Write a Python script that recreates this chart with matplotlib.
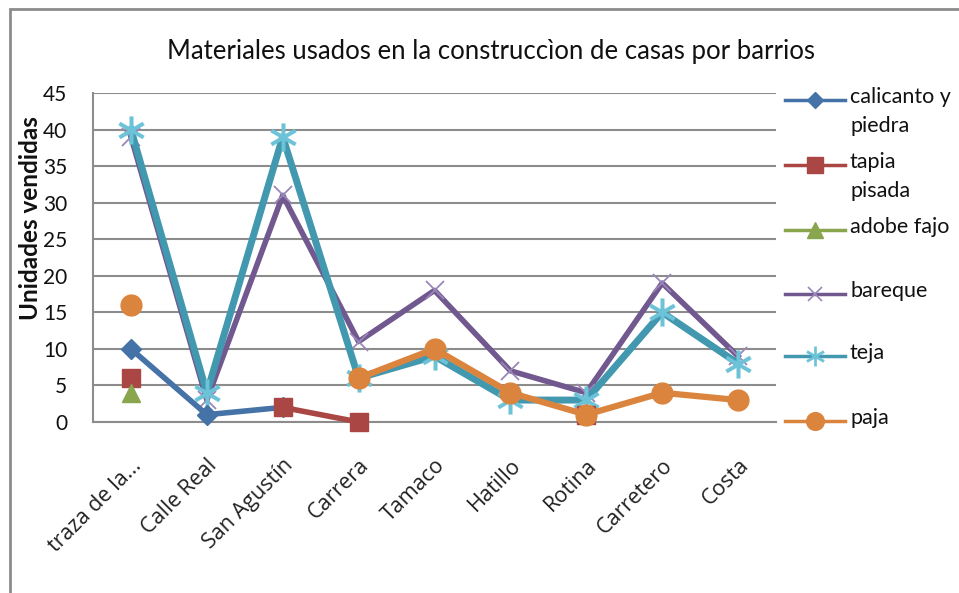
import numpy as np
import matplotlib
matplotlib.use("Agg")
import matplotlib.pyplot as plt
from matplotlib.lines import Line2D
from matplotlib.patches import Rectangle
import matplotlib.transforms as mtrans

nan = np.nan
categories = ["traza de la...", "Calle Real", "San Agustín", "Carrera", "Tamaco",
              "Hatillo", "Rotina", "Carretero", "Costa"]
calicanto = [10, 1, 2, nan, nan, nan, nan, nan, nan]
tapia = [6, nan, 2, 0, nan, nan, 1, nan, nan]
adobe = [4, nan, nan, nan, nan, nan, nan, nan, nan]
bareque = [39, 3, 31, 11, 18, 7, 4, 19, 9]
teja = [40, 4, 39, 6, 9, 3, 3, 15, 8]
paja = [16, nan, nan, 6, 10, 4, 1, 4, 3]

series_names = ["calicanto y\npiedra", "tapia\npisada", "adobe fajo", "bareque", "teja", "paja"]
series_values = [calicanto, tapia, adobe, bareque, teja, paja]
colors = ["#4572A7", "#AA4643", "#89A54E", "#71588F", "#4198AF", "#DB843D"]
markers = ["D", "s", "^", "x", "*", "o"]
msizes = [10, 13, 13, 13, 14, 15]
lwidths = [4, 4, 4, 4, 5, 4.5]

W, H = 959, 593
fig = plt.figure(figsize=(W / 100, H / 100), dpi=100)
ax = fig.add_axes([93 / W, 1 - 422 / H, 683 / W, 329 / H])

x = np.arange(len(categories))
for vals, col, mk, ms, lw in zip(series_values, colors, markers, msizes, lwidths):
    v = np.array(vals, dtype=float)
    if mk == "x":
        ax.plot(x, v, color=col, lw=lw, marker=mk, ms=ms, mew=1.3,
                mec="#9a86b8", zorder=3, clip_on=False)
    elif mk == "*":
        ax.plot(x, v, color=col, lw=lw, marker="$\\ast$", ms=ms + 6, mew=0.2,
                mec="#6cc3d8", mfc="#6cc3d8", zorder=4, clip_on=False)
    else:
        ax.plot(x, v, color=col, lw=lw, marker=mk, ms=ms, mec=col, mfc=col,
                zorder=5, clip_on=False)

ax.set_xlim(-0.5, len(categories) - 0.5)
ax.set_ylim(0, 45)
ax.set_yticks(np.arange(0, 46, 5))
ax.yaxis.grid(True, color="#8c8c8c", lw=1.5)
ax.set_axisbelow(True)
for s in ["top", "right"]:
    ax.spines[s].set_visible(False)
for s in ["left", "bottom"]:
    ax.spines[s].set_color("#8c8c8c")
    ax.spines[s].set_linewidth(1.5)
ax.tick_params(axis="both", length=0)
ax.tick_params(axis="y", pad=18.5, labelsize=15)
for lab in ax.get_yticklabels():
    lab.set_fontfamily("Lato")
    lab.set_color("#111111")

ax.set_xticks(x)
ax.tick_params(axis="x", pad=0)
ax.set_xticklabels(categories, rotation=45, ha="right", va="top", rotation_mode="anchor",
                   fontfamily="Open Sans", fontsize=15.5, color="#222222")
offset = mtrans.ScaledTranslation(0 / 100, -33 / 100, fig.dpi_scale_trans)
for lab in ax.get_xticklabels():
    lab.set_transform(lab.get_transform() + offset)

ax.set_ylabel("Unidades vendidas", fontfamily="Lato", fontweight="bold",
              fontsize=17.5, color="#111111")
ax.yaxis.set_label_coords(-0.074, 0.62)

fig.text(491 / W, 1 - 52 / H, "Materiales usados en la construccìon de casas por barrios",
         ha="center", va="center", fontfamily="Lato", fontsize=18.5, color="#111111")

# Legend drawn manually in figure pixel coordinates
leg_y = [100, 165, 230, 294, 356, 421]
for name, col, mk, ms, yy in zip(series_names, colors, markers, msizes, leg_y):
    yf = 1 - yy / H
    ln = Line2D([785 / W, 845 / W], [yf, yf], color=col, lw=2.5,
                transform=fig.transFigure)
    if mk == "x":
        mkk = Line2D([815 / W], [yf], marker="x", ms=10, mew=1.2, color="#9a86b8",
                     transform=fig.transFigure)
    elif mk == "*":
        mkk = Line2D([815 / W], [yf], marker="$\\ast$", ms=14, mew=0.2, color="#6cc3d8",
                     transform=fig.transFigure)
    else:
        mkk = Line2D([815 / W], [yf], marker=mk, ms=ms * 0.85, color=col,
                     transform=fig.transFigure)
    fig.add_artist(ln)
    fig.add_artist(mkk)
    fig.text(850 / W, 1 - (yy - 13) / H, name, ha="left", va="top", fontfamily="Lato",
             fontsize=15.5, color="#111111", linespacing=1.55)

# chart border
fig.add_artist(Rectangle((10 / W, -0.02), 1.0, 1 - 9 / H + 0.02, fill=False,
                         ec="#8c8c8c", lw=2, transform=fig.transFigure))

fig.savefig("out.png", dpi=100)
